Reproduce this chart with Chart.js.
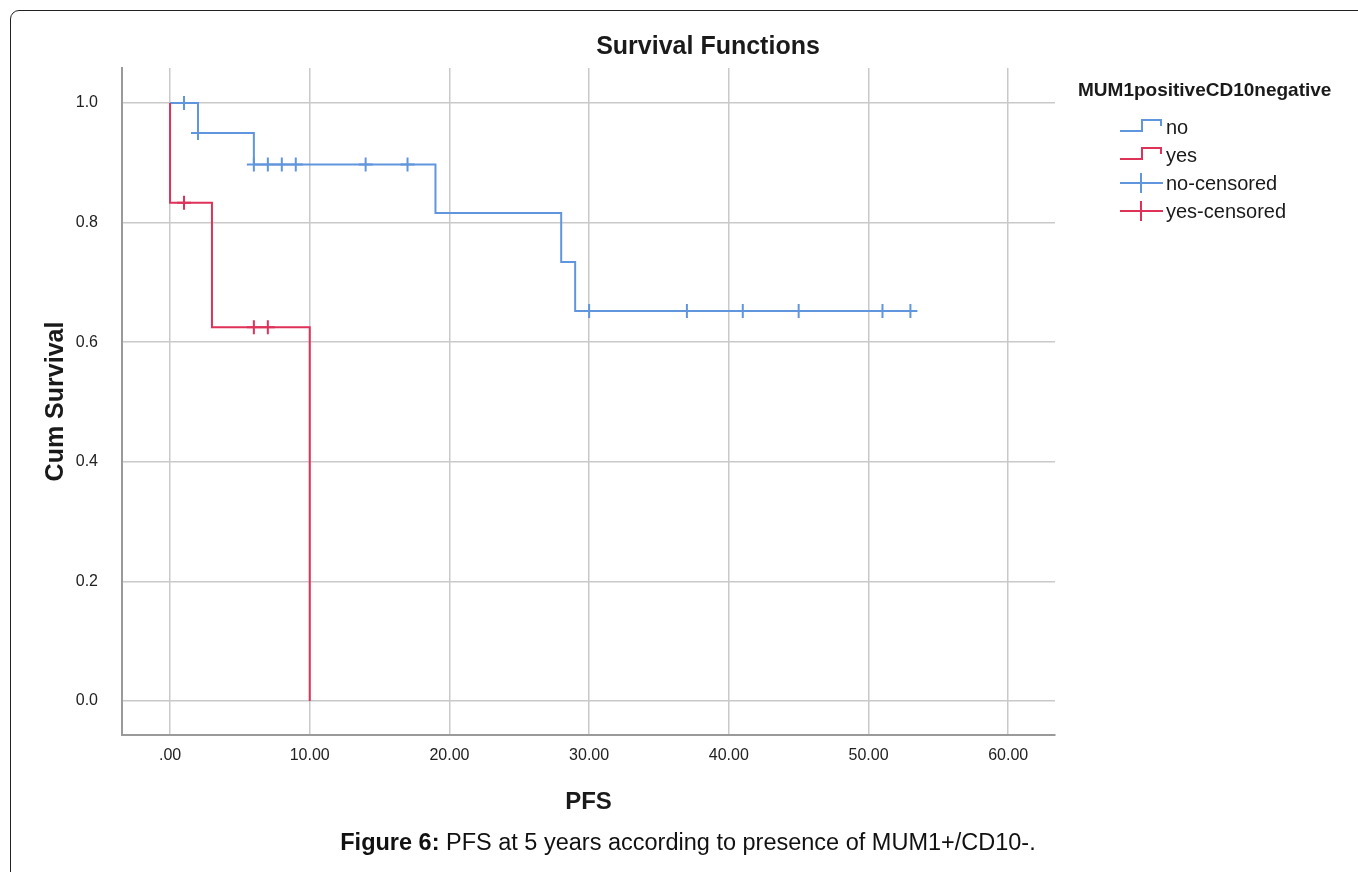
<!DOCTYPE html>
<html lang="en">
<head>
    <meta charset="UTF-8">
    <title>Survival Functions</title>
    <script src="https://cdn.jsdelivr.net/npm/chart.js@4"></script>
    <style>
        body { margin: 0; background: #fff; font-family: "Liberation Sans", Arial, sans-serif; }
        .wrap { position: relative; width: 1358px; height: 872px; overflow: hidden; }
        .frame { position: absolute; left: 10px; top: 10px; width: 1400px; height: 900px;
                 border: 1.5px solid #222; border-radius: 9px; }
        canvas { position: absolute; left: 0; top: 0; }
        .caption { position: absolute; left: 0; width: 1376px; top: 829px; text-align: center;
                   font-size: 23.5px; color: #111; }
    </style>
</head>
<body>
    <div class="wrap">
        <div class="frame"></div>
        <canvas id="chart" width="1358" height="872"></canvas>
        <div class="caption"><b>Figure 6:</b> PFS at 5 years according to presence of MUM1+/CD10-.</div>
    </div>

    <script>
        // step curves (time, cumulative survival)
        const noTimes = [0, 2, 6, 19, 28, 29, 53];
        const noSurv = [1.0, 0.95, 0.897, 0.816, 0.734, 0.652, 0.652];
        const yesTimes = [0, 0, 3, 10, 10];
        const yesSurv = [1.0, 0.833, 0.625, 0.625, 0.0];

        // censored marks
        const noCensTimes = [1, 2, 6, 7, 8, 9, 14, 17, 30, 37, 41, 45, 51, 53];
        const noCensSurv = [1.0, 0.95, 0.897, 0.897, 0.897, 0.897, 0.897, 0.897, 0.652, 0.652, 0.652, 0.652, 0.652, 0.652];
        const yesCensTimes = [1, 6, 7];
        const yesCensSurv = [0.833, 0.625, 0.625];

        const xTicks = [0, 10, 20, 30, 40, 50, 60];
        const xTickLabels = ['.00', '10.00', '20.00', '30.00', '40.00', '50.00', '60.00'];
        const yTicks = [0, 0.2, 0.4, 0.6, 0.8, 1.0];
        const yTickLabels = ['0.0', '0.2', '0.4', '0.6', '0.8', '1.0'];

        const legendTitle = 'MUM1positiveCD10negative';
        const legendLabels = ['no', 'yes', 'no-censored', 'yes-censored'];

        const blue = 'rgb(96,150,222)';
        const red = 'rgb(222,50,88)';
        const FONT = '"Liberation Sans", Arial, sans-serif';

        const toPts = (xs, ys) => xs.map((x, i) => ({ x: x, y: ys[i] }));

        // titles + legend drawn on top
        const textPlugin = {
            id: 'texts',
            afterDraw(chart) {
                const ctx = chart.ctx;
                const area = chart.chartArea;
                ctx.save();
                ctx.fillStyle = '#1a1a1a';
                ctx.textBaseline = 'middle';
                ctx.textAlign = 'center';
                ctx.font = 'bold 25px ' + FONT;
                ctx.fillText('Survival Functions', 708, 47);
                ctx.font = 'bold 24px ' + FONT;
                ctx.fillText('PFS', (area.left + area.right) / 2, 802);
                ctx.save();
                ctx.translate(56, (area.top + area.bottom) / 2);
                ctx.rotate(-Math.PI / 2);
                ctx.font = 'bold 25px ' + FONT;
                ctx.fillText('Cum Survival', 0, 0);
                ctx.restore();

                // legend
                ctx.textAlign = 'left';
                ctx.font = 'bold 19px ' + FONT;
                ctx.fillText(legendTitle, 1078, 91);
                const rows = [127, 155, 183, 211];
                const cols = [blue, red, blue, red];
                ctx.font = '20px ' + FONT;
                rows.forEach((y, i) => {
                    ctx.strokeStyle = cols[i];
                    ctx.lineWidth = 2;
                    ctx.beginPath();
                    if (i < 2) {
                        ctx.moveTo(1120, y + 4);
                        ctx.lineTo(1142, y + 4);
                        ctx.lineTo(1142, y - 7);
                        ctx.lineTo(1161, y - 7);
                        ctx.lineTo(1161, y - 1);
                    } else {
                        ctx.moveTo(1120, y);
                        ctx.lineTo(1163, y);
                        ctx.moveTo(1141, y - 10);
                        ctx.lineTo(1141, y + 10);
                    }
                    ctx.stroke();
                    ctx.fillStyle = '#1a1a1a';
                    ctx.fillText(legendLabels[i], 1166, y + 1);
                });
                ctx.restore();
            }
        };

        new Chart(document.getElementById('chart'), {
            type: 'scatter',
            data: {
                datasets: [
                    {
                        type: 'line',
                        data: toPts(yesTimes, yesSurv),
                        borderColor: red,
                        borderWidth: 2,
                        stepped: 'before',
                        pointRadius: 0,
                        fill: false
                    },
                    {
                        type: 'line',
                        data: toPts(noTimes, noSurv),
                        borderColor: blue,
                        borderWidth: 2,
                        stepped: 'before',
                        pointRadius: 0,
                        fill: false
                    },
                    {
                        data: toPts(noCensTimes, noCensSurv),
                        pointStyle: 'cross',
                        pointRadius: 7,
                        borderColor: blue,
                        borderWidth: 2
                    },
                    {
                        data: toPts(yesCensTimes, yesCensSurv),
                        pointStyle: 'cross',
                        pointRadius: 7,
                        borderColor: red,
                        borderWidth: 2
                    }
                ]
            },
            options: {
                responsive: false,
                animation: false,
                layout: { padding: { top: 68, right: 303, bottom: 0, left: 0 } },
                plugins: {
                    legend: { display: false },
                    tooltip: { enabled: false }
                },
                scales: {
                    x: {
                        type: 'linear',
                        min: -3.44,
                        max: 63.35,
                        afterFit(scale) { scale.height = 137; },
                        afterBuildTicks(scale) { scale.ticks = xTicks.map(v => ({ value: v })); },
                        grid: { color: '#c9c9c9', lineWidth: 1.5, drawTicks: false },
                        border: { display: true, color: '#9a9a9a', width: 2 },
                        ticks: {
                            padding: 11,
                            color: '#222',
                            font: { family: FONT, size: 16 },
                            callback: (v) => xTickLabels[xTicks.indexOf(v)]
                        }
                    },
                    y: {
                        min: -0.057,
                        max: 1.0585,
                        afterFit(scale) { scale.width = 122; },
                        afterBuildTicks(scale) { scale.ticks = yTicks.map(v => ({ value: v })); },
                        grid: { color: '#c9c9c9', lineWidth: 1.5, drawTicks: false },
                        border: { display: true, color: '#9a9a9a', width: 2 },
                        ticks: {
                            padding: 24,
                            color: '#222',
                            font: { family: FONT, size: 16 },
                            callback: (v) => yTickLabels[yTicks.indexOf(v)]
                        }
                    }
                }
            },
            plugins: [textPlugin]
        });
    </script>
</body>
</html>
